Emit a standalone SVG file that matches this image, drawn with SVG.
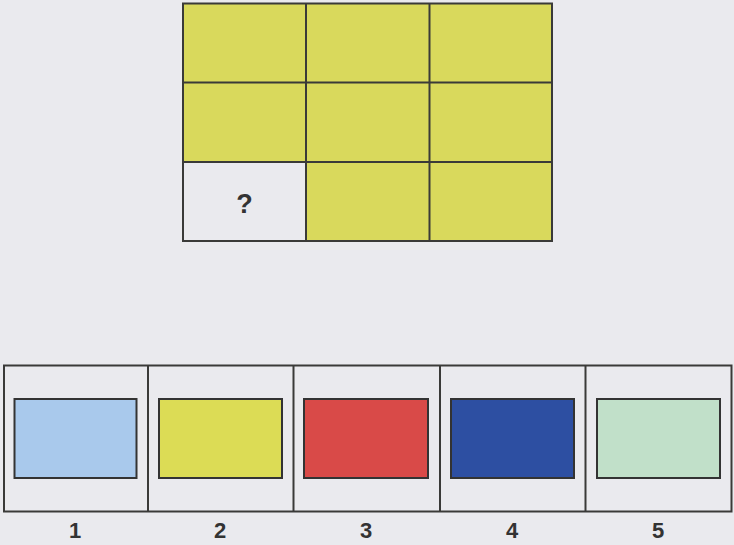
<svg xmlns="http://www.w3.org/2000/svg" width="734" height="545" viewBox="0 0 734 545">
<style>
.ln{stroke:#3a3a38;stroke-width:2;fill:none}
.y{fill:#d9d95c}
.opt{stroke:#333;stroke-width:2}
.lbl{font-family:"Liberation Sans",Arial,sans-serif;font-weight:bold;font-size:22px;fill:#333;text-anchor:middle}
</style>
<rect width="734" height="545" fill="#eaeaee"/>
<g id="matrix">
<rect class="y" x="183" y="3.5" width="369" height="237.5"/>
<rect x="183" y="162" width="123" height="79" fill="#eaeaee"/>
<rect class="ln" x="183" y="3.5" width="369" height="237.5"/>
<line class="ln" x1="306" y1="3.5" x2="306" y2="241"/>
<line class="ln" x1="429.5" y1="3.5" x2="429.5" y2="241"/>
<line class="ln" x1="183" y1="82.5" x2="552" y2="82.5"/>
<line class="ln" x1="183" y1="162" x2="552" y2="162"/>
<text class="lbl" x="244.5" y="213" style="font-size:27px">?</text>
</g>
<g id="options">
<rect class="ln" x="4" y="365.5" width="727.5" height="146"/>
<line class="ln" x1="148" y1="365.5" x2="148" y2="511.5"/>
<line class="ln" x1="293.5" y1="365.5" x2="293.5" y2="511.5"/>
<line class="ln" x1="440" y1="365.5" x2="440" y2="511.5"/>
<line class="ln" x1="585.5" y1="365.5" x2="585.5" y2="511.5"/>
</g>
<g id="opt1"><rect class="opt" x="14.5" y="399" width="122" height="79" fill="#a9c9ec"/><text class="lbl" x="75" y="538">1</text></g>
<g id="opt2"><rect class="opt" x="159" y="399" width="123" height="79" fill="#dcdc55"/><text class="lbl" x="220" y="538">2</text></g>
<g id="opt3"><rect class="opt" x="304" y="399" width="124" height="79" fill="#d94a48"/><text class="lbl" x="366" y="538">3</text></g>
<g id="opt4"><rect class="opt" x="451" y="399" width="123" height="79" fill="#2d4fa2"/><text class="lbl" x="512" y="538">4</text></g>
<g id="opt5"><rect class="opt" x="597" y="399" width="123" height="79" fill="#c1e0c9"/><text class="lbl" x="658" y="538">5</text></g>
</svg>
